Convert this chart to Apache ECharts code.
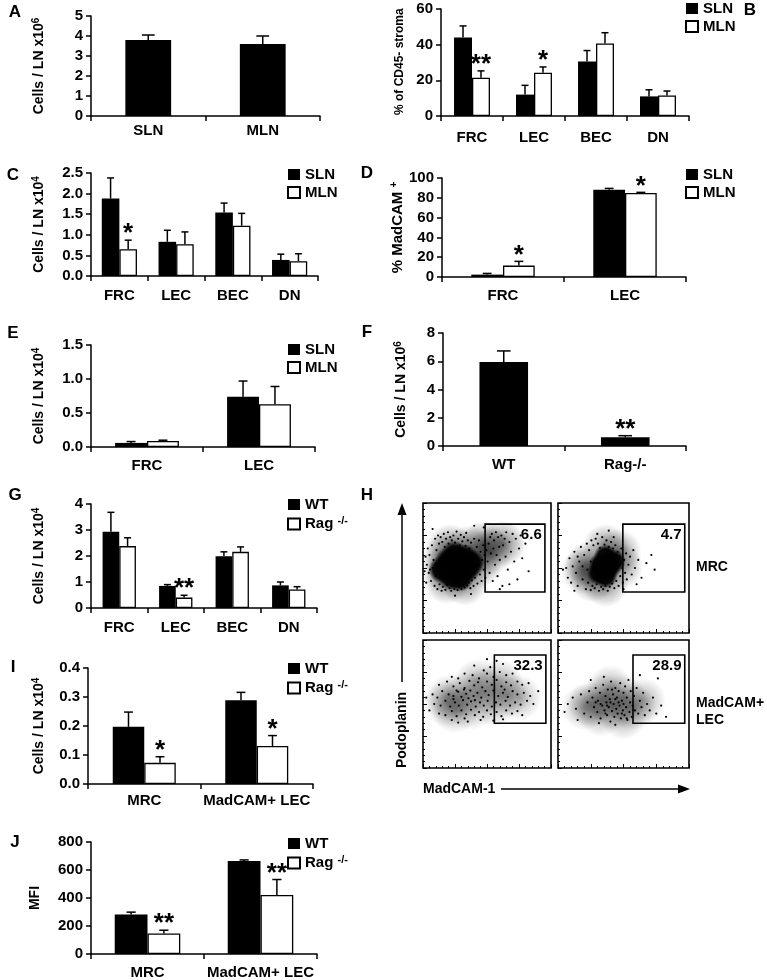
<!DOCTYPE html>
<html><head><meta charset="utf-8">
<script src="https://cdn.jsdelivr.net/npm/echarts@6/dist/echarts.min.js"></script>
<style>html,body{margin:0;padding:0;background:#fff}#c{width:767px;height:980px}</style>
</head><body><div id="c"></div>
<script>
const FONT = '"Liberation Sans", Arial, Helvetica, sans-serif';

// ---------- DATA ----------
// A
const catsA = ['SLN', 'MLN'];
const valA = [3.8, 3.6];
const errA = [4.05, 4.0];
// B
const catsB = ['FRC', 'LEC', 'BEC', 'DN'];
const slnB = [44, 12, 30.5, 11];
const slnErrB = [50.5, 17.2, 36.7, 14.7];
const mlnB = [21.5, 24.3, 40.7, 11.5];
const mlnErrB = [25.3, 27.5, 46.7, 14];
const sigB = ['**', '*', '', ''];
// C
const catsC = ['FRC', 'LEC', 'BEC', 'DN'];
const slnC = [1.88, 0.83, 1.54, 0.39];
const slnErrC = [2.38, 1.11, 1.77, 0.53];
const mlnC = [0.65, 0.77, 1.22, 0.36];
const mlnErrC = [0.87, 1.07, 1.52, 0.54];
const sigC = ['*', '', '', ''];
// D
const catsD = ['FRC', 'LEC'];
const slnD = [2.4, 88.2];
const slnErrD = [3.6, 89.5];
const mlnD = [11.5, 84.8];
const mlnErrD = [15.8, 85.5];
const sigD = ['*', '*'];
// E
const catsE = ['FRC', 'LEC'];
const slnE = [0.06, 0.74];
const slnErrE = [0.08, 0.97];
const mlnE = [0.09, 0.63];
const mlnErrE = [0.1, 0.89];
// F
const catsF = ['WT', 'Rag-/-'];
const valF = [5.95, 0.62];
const errF = [6.73, 0.73];
const sigF = ['', '**'];
// G
const catsG = ['FRC', 'LEC', 'BEC', 'DN'];
const wtG = [2.93, 0.85, 1.99, 0.87];
const wtErrG = [3.68, 0.9, 2.16, 1.0];
const ragG = [2.38, 0.4, 2.16, 0.71];
const ragErrG = [2.7, 0.49, 2.35, 0.82];
const sigG = ['', '**', '', ''];
// I
const catsI = ['MRC', 'MadCAM+ LEC'];
const wtI = [0.197, 0.289];
const wtErrI = [0.248, 0.316];
const ragI = [0.073, 0.131];
const ragErrI = [0.094, 0.167];
const sigI = ['*', '*'];
// J
const catsJ = ['MRC', 'MadCAM+ LEC'];
const wtJ = [282, 665];
const wtErrJ = [299, 672];
const ragJ = [147, 422];
const ragErrJ = [170, 532];
const sigJ = ['**', '**'];

// H (flow cytometry, log decades 0-4); gates [xMin, xMax, yMin, yMax]
const facsPct = ['6.6', '4.7', '32.3', '28.9'];
const gateTL = [1.94, 3.81, 1.26, 3.35];
const gateTR = [1.98, 3.87, 1.26, 3.35];
const gateBL = [2.23, 3.84, 1.40, 3.53];
const gateBR = [2.29, 3.87, 1.40, 3.53];
const coreTL = [[0.8,2.2],[1.1,2.0],[1.35,1.95],[1.0,2.4],[0.9,1.75],[1.3,2.3],[0.6,1.95],[1.5,2.15],[1.15,1.7]];
const coreTR = [[1.3,2.1],[1.55,2.0],[1.45,2.35],[1.45,1.75],[1.7,2.2],[1.25,1.85]];
const hazeTL = [[0.7,2.3],[0.85,2.65],[1.4,2.6],[1.75,2.1],[1.3,1.55],[0.75,1.6],[0.7,1.95],[2.1,2.5],[2.5,2.75],[1.9,2.75]];
const hazeTR = [[0.9,2.1],[1.9,2.05],[1.45,2.65],[1.45,1.5],[1.05,1.65],[1.85,2.5],[0.8,1.9]];
const hazeBL = [[0.8,2.2],[1.3,2.3],[1.5,1.9],[1.9,2.4],[2.2,2.0],[2.6,2.3],[3.0,2.2],[1.0,1.8],[2.4,2.7],[1.7,2.7],[0.75,2.0]];
const hazeBR = [[1.0,2.0],[1.4,2.2],[1.7,1.9],[2.0,2.2],[2.3,1.9],[1.6,2.5],[1.3,1.7],[2.6,2.1],[0.8,1.9],[2.0,1.6]];
const dotsTL = [[0.12,2.1],[0.18,1.85],[0.2,2.4],[0.25,1.6],[0.28,2.7],[0.3,2.0],[0.33,2.25],[0.36,1.45],[0.38,2.9],[0.4,1.75],
[0.42,2.55],[0.45,1.35],[0.47,3.0],[0.5,2.75],[0.52,1.5],[0.55,2.95],[0.58,1.3],[0.6,2.8],[0.62,1.42],[0.65,3.05],
[0.68,2.65],[0.7,1.33],[0.72,2.9],[0.75,1.48],[0.78,3.1],[0.8,2.75],[0.83,1.38],[0.85,2.95],[0.88,1.3],[0.9,2.85],
[0.93,1.45],[0.95,3.0],[0.98,1.35],[1.0,2.78],[1.03,1.5],[1.05,3.12],[1.08,1.32],[1.1,2.9],[1.13,1.42],[1.15,2.7],
[1.18,3.02],[1.2,1.36],[1.23,2.82],[1.25,1.5],[1.28,2.95],[1.3,1.4],[1.33,2.68],[1.35,3.08],[1.38,1.46],[1.4,2.85],
[1.43,1.55],[1.45,2.6],[1.48,1.38],[1.5,2.78],[1.53,1.62],[1.55,2.45],[1.58,1.45],[1.6,2.9],[1.62,1.7],[1.65,2.3],
[1.68,2.65],[1.7,1.52],[1.72,2.1],[1.75,2.85],[1.78,1.8],[1.8,2.5],[1.83,1.6],[1.85,2.25],[1.88,2.7],[1.9,1.95],
[1.92,2.4],[1.95,1.7],[1.98,2.55],[0.15,2.6],[0.22,1.95],[0.08,2.35],[0.05,1.9],[0.1,1.55],
[2.02,2.2],[2.05,2.75],[2.08,1.85],[2.1,2.95],[2.12,2.45],[2.15,3.05],[2.18,1.6],[2.2,2.6],[2.22,2.85],[2.25,2.1],
[2.28,3.1],[2.3,2.4],[2.33,1.75],[2.35,2.95],[2.38,2.65],[2.4,2.25],[2.45,3.0],[2.48,1.45],[2.5,2.7],[2.55,2.9],
[2.58,2.35],[2.6,3.1],[2.65,1.95],[2.7,2.8],[2.75,2.5],[2.8,3.05],[2.85,2.2],[2.9,2.9],[2.95,1.65],[3.0,2.6],
[3.05,3.0],[3.1,2.3],[3.2,2.75],[3.3,1.9],[2.4,1.35],[2.7,1.5],[1.6,3.3],[1.9,3.25],[0.3,3.2],[1.0,1.15],[1.5,1.2]];
const dotsTR = [[0.25,2.0],[0.3,1.7],[0.35,2.3],[0.4,1.55],[0.45,2.05],[0.5,2.5],[0.55,1.85],[0.6,1.45],[0.65,2.2],[0.7,2.65],
[0.75,1.65],[0.8,2.4],[0.85,1.35],[0.88,2.75],[0.92,1.55],[0.95,2.55],[1.0,1.32],[1.02,2.85],[1.05,1.45],[1.08,2.7],
[1.12,1.38],[1.15,2.9],[1.18,1.5],[1.22,2.75],[1.25,1.3],[1.28,2.62],[1.32,1.42],[1.35,2.95],[1.38,1.35],[1.42,2.72],
[1.45,1.45],[1.48,2.85],[1.52,1.3],[1.55,2.65],[1.58,1.42],[1.62,2.8],[1.65,1.52],[1.68,2.6],[1.72,1.38],[1.75,2.7],
[1.78,1.6],[1.82,2.5],[1.85,1.45],[1.88,2.35],[1.9,1.75],[1.93,2.6],[1.96,2.0],[1.98,1.55],[2.02,2.25],[2.05,1.85],
[2.08,2.45],[2.1,1.65],[2.15,2.1],[2.2,2.35],[2.25,1.8],[2.3,2.55],[2.35,2.0],[2.45,2.25],[2.55,1.7],[2.7,2.15],
[2.85,2.4],[2.95,1.95],[1.55,3.15],[1.2,3.05],[0.15,1.95],[0.5,1.3],[2.4,1.5],[1.0,2.2],[0.9,1.95],[0.75,2.05],
[2.0,1.35],[1.7,2.95],[0.6,2.35]];
const dotsBL = [[1.6,3.2],[2.1,3.15],[2.5,3.25],[1.9,3.05],[2.3,3.35],
[0.9,2.85],[1.3,2.95],[1.55,2.9],[1.75,2.8],[2.0,2.95],[2.2,2.85],[2.4,3.0],[2.6,2.9],[2.8,2.95],[1.1,2.8],
[0.5,2.6],[0.75,2.7],[0.95,2.55],[1.15,2.65],[1.3,2.5],[1.45,2.72],[1.6,2.58],[1.72,2.68],[1.85,2.52],[2.0,2.7],[2.15,2.6],[2.3,2.75],[2.45,2.55],[2.6,2.68],[2.75,2.58],[2.95,2.7],[3.1,2.6],[3.3,2.65],[1.05,2.42],[2.55,2.45],
[0.3,2.3],[0.45,2.2],[0.6,2.4],[0.8,2.3],[0.95,2.25],[1.1,2.38],[1.2,2.22],[1.35,2.32],[1.48,2.42],[1.58,2.25],[1.7,2.35],[1.82,2.2],[1.95,2.4],[2.05,2.28],[2.2,2.42],[2.35,2.25],[2.5,2.35],[2.65,2.22],[2.8,2.4],[2.95,2.3],[3.15,2.35],[3.35,2.25],[1.28,2.45],[1.62,2.12],
[0.35,2.0],[0.55,1.95],[0.7,2.1],[0.85,1.92],[1.0,2.05],[1.12,1.95],[1.25,2.12],[1.38,1.98],[1.5,2.08],[1.65,1.92],[1.78,2.05],[1.9,1.95],[2.02,2.1],[2.15,1.92],[2.28,2.05],[2.42,1.98],[2.58,2.1],[2.72,1.95],[2.88,2.05],[3.05,1.98],[3.25,2.1],[3.45,2.0],[1.42,2.18],[0.95,2.15],
[0.5,1.7],[0.7,1.65],[0.9,1.78],[1.05,1.62],[1.2,1.8],[1.35,1.68],[1.5,1.82],[1.62,1.65],[1.75,1.75],[1.88,1.6],[2.0,1.8],[2.12,1.68],[2.3,1.75],[2.45,1.62],[2.6,1.8],[2.78,1.7],[2.95,1.78],[3.1,1.65],[1.3,1.55],
[0.9,1.5],[1.4,1.45],[1.8,1.5],[2.2,1.48],[2.5,1.52],[1.1,1.42],
[0.1,2.2],[3.6,2.4],[2.0,3.4],[0.2,1.8]];
const dotsBR = [[0.3,2.0],[0.45,2.2],[0.55,1.85],[0.7,2.3],[0.8,1.7],[0.9,2.05],[0.95,2.4],[1.0,1.6],[1.05,2.2],[1.1,1.9],
[1.15,2.5],[1.2,1.75],[1.22,2.1],[1.28,2.35],[1.3,1.55],[1.35,1.95],[1.38,2.6],[1.42,1.8],[1.45,2.25],[1.48,2.05],
[1.5,1.65],[1.52,2.45],[1.55,1.9],[1.58,2.15],[1.6,1.45],[1.62,2.7],[1.65,1.78],[1.68,2.3],[1.7,2.0],[1.72,1.6],
[1.75,2.5],[1.78,1.85],[1.8,2.2],[1.82,1.7],[1.85,2.4],[1.88,1.95],[1.9,2.65],[1.92,1.55],[1.95,2.1],[1.98,1.8],
[2.0,2.35],[2.03,1.65],[2.05,2.55],[2.08,1.9],[2.1,2.2],[2.12,1.5],[2.15,2.75],[2.18,1.75],[2.2,2.05],[2.22,2.4],
[2.25,1.6],[2.28,1.95],[2.32,2.25],[2.35,1.8],[2.4,2.5],[2.45,1.7],[2.5,2.1],[2.55,1.9],[2.6,2.35],[2.65,1.65],
[2.72,2.0],[2.8,1.8],[2.9,2.2],[3.0,1.7],[3.15,1.95],[3.3,1.6],[1.25,1.4],[1.75,1.35],[1.4,2.85],[2.5,2.9],
[3.05,2.8],[0.6,1.5],[1.0,2.75],[1.6,2.05],[1.85,2.05],[1.3,2.0],[1.5,1.95],[1.75,2.15],[2.0,2.0],[1.45,1.7],
[1.65,2.45],[1.95,1.7],[1.15,2.05],[2.1,1.55],[0.2,1.75]];

// ---------- BUILD ----------
const grids = [], xAxes = [], yAxes = [], series = [], legends = [], graphics = [];
const black = '#000';
const supStyle = {fontFamily: FONT, fontWeight: 'bold', fontSize: 10, color: black, verticalAlign: 'bottom', padding: [0, 0, 7, 0]};

function errRender(n, k, gapFrac, sig) {
  return function (params, api) {
    const i = api.value(0);
    const top = api.coord([i, api.value(2)]);
    const base = api.coord([i, api.value(1)]);
    const band = api.size([1, 0])[0];
    const bw = band * (1 - gapFrac) / n;
    const cx = top[0] + (k - (n - 1) / 2) * bw;
    const cap = Math.max(7, bw * 0.28);
    const ch = [
      {type: 'line', shape: {x1: cx, y1: base[1], x2: cx, y2: top[1]}, style: {stroke: black, lineWidth: 1.5}},
      {type: 'line', shape: {x1: cx - cap / 2, y1: top[1], x2: cx + cap / 2, y2: top[1]}, style: {stroke: black, lineWidth: 1.5}}
    ];
    const s = sig ? sig[params.dataIndex] : '';
    if (s) ch.push({type: 'text', x: cx, y: top[1] - 6, style: {text: s, fill: black, font: 'bold 26px ' + FONT, align: 'center', verticalAlign: 'middle'}});
    return {type: 'group', children: ch};
  };
}

function addBarPanel(p) {
  const gi = grids.length;
  grids.push({left: p.left, top: p.top, width: p.width, height: p.height});
  xAxes.push({type: 'category', gridIndex: gi, data: p.cats,
    axisLine: {lineStyle: {color: black, width: 1.5}},
    axisTick: {show: true, length: 5, lineStyle: {color: black, width: 1.5}},
    axisLabel: {color: black, fontFamily: FONT, fontWeight: 'bold', fontSize: 15, margin: p.labelMargin, interval: 0},
    splitLine: {show: false}});
  yAxes.push({type: 'value', gridIndex: gi, min: 0, max: p.max, interval: p.interval,
    name: p.name || '', nameLocation: 'middle', nameRotate: 90, nameGap: p.nameGap || 40,
    nameTextStyle: {color: black, fontFamily: FONT, fontWeight: 'bold', fontSize: p.nameSize || 14, rich: {sup: supStyle}},
    axisLine: {show: true, lineStyle: {color: black, width: 1.5}},
    axisTick: {show: true, length: 5, lineStyle: {color: black, width: 1.5}},
    splitLine: {show: false},
    axisLabel: {color: black, fontFamily: FONT, fontWeight: 'bold', fontSize: 15, margin: 8,
      formatter: p.dec ? (v => v.toFixed(p.dec)) : (v => String(Math.round(v)))}});
  const n = p.series.length;
  const gapFrac = parseFloat(p.gap) / 100;
  p.series.forEach((s, k) => {
    series.push({type: 'bar', name: s.name, xAxisIndex: gi, yAxisIndex: gi, data: s.vals,
      barGap: '0%', barCategoryGap: p.gap, silent: true, z: 2,
      itemStyle: {color: s.fill, borderColor: black, borderWidth: s.fill === '#fff' ? 1.3 : 0}});
    series.push({type: 'custom', name: s.name + ' err', xAxisIndex: gi, yAxisIndex: gi, silent: true, z: 5,
      data: s.vals.map((v, i) => [i, v, s.errs[i]]),
      encode: {x: 0, y: 2},
      renderItem: errRender(n, k, gapFrac, s.sig)});
  });
  if (p.legend) {
    legends.push({orient: 'vertical', left: p.legend[0], top: p.legend[1], padding: 0,
      itemWidth: 12, itemHeight: 11, itemGap: 3, icon: 'rect', selectedMode: false,
      data: p.series.map(s => s.name),
      formatter: nm => nm === 'Rag-/-' ? 'Rag {sup|-/-}' : nm,
      textStyle: {color: black, fontFamily: FONT, fontWeight: 'bold', fontSize: 15,
        rich: {sup: {fontFamily: FONT, fontWeight: 'bold', fontSize: 11, color: black, verticalAlign: 'bottom', padding: [0, 0, 7, 0]}}}});
  }
}

const W = '#fff';
addBarPanel({left: 91, top: 16, width: 229, height: 100, cats: catsA, max: 5, interval: 1,
  name: 'Cells / LN x10{sup|6}', nameGap: 43, gap: '60%', labelMargin: 7,
  series: [{name: 'Cells', vals: valA, errs: errA, fill: black}]});
addBarPanel({left: 441, top: 9, width: 248, height: 107, cats: catsB, max: 60, interval: 20,
  gap: '42%', labelMargin: 14, legend: [685, 1],
  series: [{name: 'SLN', vals: slnB, errs: slnErrB, fill: black}, {name: 'MLN', vals: mlnB, errs: mlnErrB, fill: W, sig: sigB}]});
addBarPanel({left: 91, top: 173, width: 227, height: 103, cats: catsC, max: 2.5, interval: 0.5, dec: 1,
  name: 'Cells / LN x10{sup|4}', nameGap: 43, gap: '38%', labelMargin: 12, legend: [287, 167],
  series: [{name: 'SLN', vals: slnC, errs: slnErrC, fill: black}, {name: 'MLN', vals: mlnC, errs: mlnErrC, fill: W, sig: sigC}]});
addBarPanel({left: 442, top: 178, width: 244, height: 99, cats: catsD, max: 100, interval: 20,
  name: '% MadCAM {sup|+}', nameSize: 15, nameGap: 36, gap: '48%', labelMargin: 11, legend: [685, 167],
  series: [{name: 'SLN', vals: slnD, errs: slnErrD, fill: black}, {name: 'MLN', vals: mlnD, errs: mlnErrD, fill: W, sig: sigD}]});
addBarPanel({left: 91, top: 345, width: 224, height: 102, cats: catsE, max: 1.5, interval: 0.5, dec: 1,
  name: 'Cells / LN x10{sup|4}', nameGap: 43, gap: '43%', labelMargin: 11, legend: [287, 342],
  series: [{name: 'SLN', vals: slnE, errs: slnErrE, fill: black}, {name: 'MLN', vals: mlnE, errs: mlnErrE, fill: W}]});
addBarPanel({left: 443, top: 333, width: 243, height: 113, cats: catsF, max: 8, interval: 2,
  name: 'Cells / LN x10{sup|6}', nameGap: 33, gap: '60%', labelMargin: 11,
  series: [{name: 'Cells LN', vals: valF, errs: errF, fill: black, sig: sigF}]});
addBarPanel({left: 91, top: 504, width: 226, height: 104, cats: catsG, max: 4, interval: 1,
  name: 'Cells / LN x10{sup|4}', nameGap: 43, gap: '41%', labelMargin: 12, legend: [287, 497],
  series: [{name: 'WT', vals: wtG, errs: wtErrG, fill: black}, {name: 'Rag-/-', vals: ragG, errs: ragErrG, fill: W, sig: sigG}]});
addBarPanel({left: 88, top: 668, width: 225, height: 116, cats: catsI, max: 0.4, interval: 0.1, dec: 1,
  name: 'Cells / LN x10{sup|4}', nameGap: 40, gap: '44%', labelMargin: 9, legend: [287, 661],
  series: [{name: 'WT', vals: wtI, errs: wtErrI, fill: black}, {name: 'Rag-/-', vals: ragI, errs: ragErrI, fill: W, sig: sigI}]});
addBarPanel({left: 91, top: 842, width: 226, height: 114, cats: catsJ, max: 800, interval: 200,
  name: 'MFI', nameGap: 49, gap: '42%', labelMargin: 11, legend: [287, 836],
  series: [{name: 'WT', vals: wtJ, errs: wtErrJ, fill: black}, {name: 'Rag-/-', vals: ragJ, errs: ragErrJ, fill: W, sig: sigJ}]});

// ---------- FACS panels ----------
function softFill(a) {
  return {type: 'radial', x: 0.5, y: 0.5, r: 0.5,
    colorStops: [{offset: 0, color: 'rgba(0,0,0,' + a + ')'}, {offset: 1, color: 'rgba(0,0,0,0)'}]};
}
function addFacs(box, dots, haze, hazeAlpha, core, coreSize, gate, pct) {
  const gi = grids.length;
  grids.push({left: box[0], top: box[1], width: box[2], height: box[3], show: true, borderColor: black, borderWidth: 1.6, backgroundColor: 'transparent'});
  const ax = {gridIndex: gi, type: 'value', min: 0, max: 4, interval: 1,
    axisLine: {show: false}, axisLabel: {show: false}, splitLine: {show: false},
    axisTick: {show: true, inside: true, length: 4, lineStyle: {color: black, width: 1}},
    minorTick: {show: true, splitNumber: 5, length: 2, lineStyle: {color: black, width: 1}}};
  xAxes.push(Object.assign({}, ax));
  yAxes.push(Object.assign({}, ax));
  series.push({type: 'scatter', xAxisIndex: gi, yAxisIndex: gi, data: haze, symbolSize: 46, silent: true,
    itemStyle: {color: softFill(hazeAlpha), opacity: 1, borderWidth: 0}, z: 1});
  series.push({type: 'scatter', xAxisIndex: gi, yAxisIndex: gi, data: dots, symbolSize: 2.2, silent: true,
    itemStyle: {color: black, opacity: 1, borderWidth: 0}, z: 2,
    markArea: {silent: true, z: 6,
      itemStyle: {color: 'rgba(0,0,0,0)', borderColor: black, borderWidth: 1.6},
      label: {show: true, position: 'insideTopRight', distance: 4, formatter: '{b}', color: black, fontFamily: FONT, fontWeight: 'bold', fontSize: 15},
      data: [[{name: pct, xAxis: gate[0], yAxis: gate[3]}, {xAxis: gate[1], yAxis: gate[2]}]]}});
  if (core) series.push({type: 'scatter', xAxisIndex: gi, yAxisIndex: gi, data: core, symbolSize: coreSize, silent: true,
    itemStyle: {color: {type: 'radial', x: 0.5, y: 0.5, r: 0.5,
      colorStops: [{offset: 0, color: 'rgba(0,0,0,1)'}, {offset: 0.65, color: 'rgba(0,0,0,0.95)'}, {offset: 1, color: 'rgba(0,0,0,0)'}]},
      opacity: 1, borderWidth: 0}, z: 3});
}
addFacs([423, 503, 128, 130], dotsTL, hazeTL, 0.5, coreTL, 28, gateTL, facsPct[0]);
addFacs([558, 503, 131, 130], dotsTR, hazeTR, 0.45, coreTR, 24, gateTR, facsPct[1]);
addFacs([423, 640, 128, 128], dotsBL, hazeBL, 0.3, null, 0, gateBL, facsPct[2]);
addFacs([558, 640, 131, 128], dotsBR, hazeBR, 0.32, null, 0, gateBR, facsPct[3]);

// ---------- texts & arrows ----------
function txt(t, x, y, size, align, extra) {
  return Object.assign({type: 'text', x: x, y: y, silent: true,
    style: {text: t, fill: black, font: 'bold ' + size + 'px ' + FONT, align: align || 'center', verticalAlign: 'middle'}}, extra || {});
}
[['A', 15, 12], ['B', 750, 10], ['C', 13, 175], ['D', 367, 173], ['E', 13, 333], ['F', 367, 332],
 ['G', 15, 495], ['H', 367, 495], ['I', 13, 667], ['J', 15, 842]].forEach(l => graphics.push(txt(l[0], l[1], l[2], 17)));
graphics.push(txt('% of CD45- stroma', 400, 115, 12, 'left', {rotation: Math.PI / 2}));
graphics.push(txt('MRC', 696, 567, 14, 'left'));
graphics.push(txt('MadCAM+', 696, 703, 14, 'left'));
graphics.push(txt('LEC', 696, 720, 14, 'left'));
graphics.push(txt('Podoplanin', 402, 730, 14, 'center', {rotation: Math.PI / 2}));
graphics.push(txt('MadCAM-1', 423, 789, 14, 'left'));
graphics.push({type: 'line', silent: true, shape: {x1: 402, y1: 682, x2: 402, y2: 512}, style: {stroke: black, lineWidth: 1.5}});
graphics.push({type: 'polygon', silent: true, shape: {points: [[402, 503], [397.5, 515], [406.5, 515]]}, style: {fill: black}});
graphics.push({type: 'line', silent: true, shape: {x1: 501, y1: 789, x2: 682, y2: 789}, style: {stroke: black, lineWidth: 1.5}});
graphics.push({type: 'polygon', silent: true, shape: {points: [[690, 789], [678, 784.5], [678, 793.5]]}, style: {fill: black}});

const chart = echarts.init(document.getElementById('c'), null, {renderer: 'canvas'});
chart.setOption({
  animation: false,
  backgroundColor: '#fff',
  textStyle: {fontFamily: FONT},
  grid: grids, xAxis: xAxes, yAxis: yAxes, series: series, legend: legends,
  graphic: {elements: graphics}
});
</script></body></html>
